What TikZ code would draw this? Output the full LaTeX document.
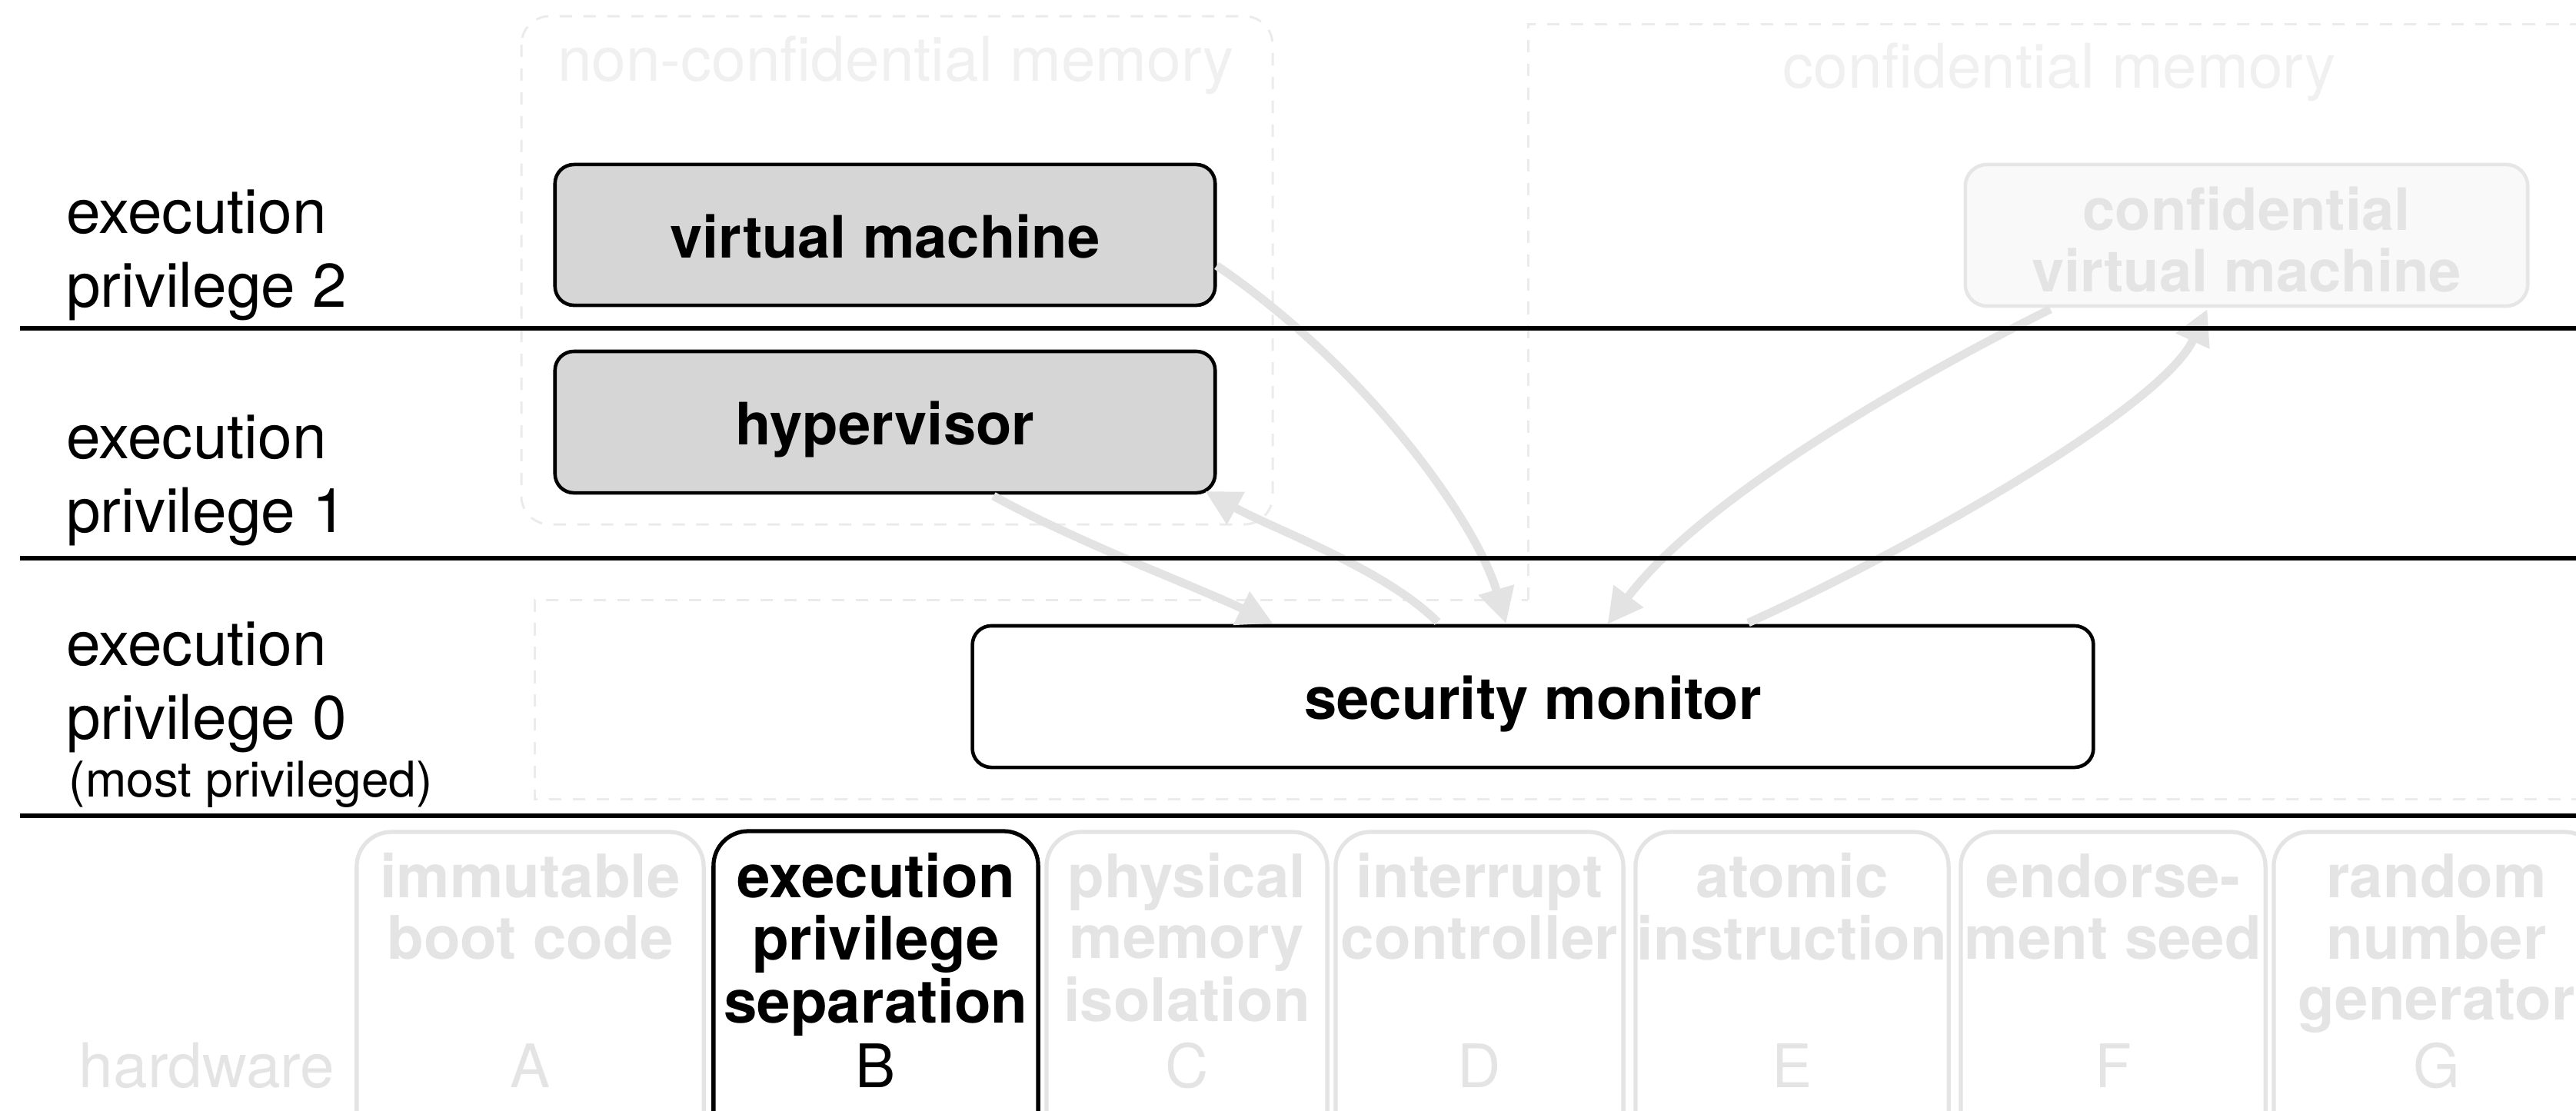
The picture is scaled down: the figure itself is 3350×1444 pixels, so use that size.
\documentclass[tikz,border=0pt]{standalone}
\usepackage{fontspec}
\setmainfont{TeX Gyre Heros}
\usetikzlibrary{arrows.meta,calc}

\definecolor{boxfill}{HTML}{D6D6D6}
\definecolor{flowgray}{HTML}{E3E3E3}
\definecolor{hwgray}{HTML}{E4E4E4}
\definecolor{regiongray}{HTML}{EBEBEB}
\definecolor{regiontext}{HTML}{F0F0F0}
\definecolor{cvmfill}{HTML}{F9F9F9}
\definecolor{cvmline}{HTML}{E6E6E6}

% stacked lines whose baseline is the first line
\newcommand\rowsC[1]{\begin{tabular}[t]{@{}c@{}}#1\end{tabular}}
\newcommand\rowsL[1]{\begin{tabular}[t]{@{}l@{}}#1\end{tabular}}

\tikzset{
  every node/.style={inner sep=0pt, outer sep=0pt},
  levelfont/.style={font=\fontsize{22.8pt}{27.3pt}\selectfont},
  rail/.style={line width=1.45pt, black},
  region/.style={draw=regiongray, line width=0.85pt, dash pattern=on 4.6pt off 4.2pt},
  regionlabel/.style={levelfont, text=regiontext},
  swbox/.style={draw=black, line width=1.3pt, rounded corners=7pt,
    font=\fontsize{21.6pt}{23pt}\selectfont\bfseries,
    text height=17pt, text depth=0pt},
  cvmbox/.style={draw=cvmline, fill=cvmfill, line width=1.3pt, rounded corners=8pt},
  cvmtext/.style={font=\fontsize{21.6pt}{23pt}\selectfont\bfseries, text=hwgray},
  hwbox/.style={draw=hwgray, line width=1.5pt, rounded corners=12.8pt,
    minimum height=4.3cm, anchor=north},
  hwtext/.style={font=\fontsize{22.2pt}{22.5pt}\selectfont\bfseries, text=hwgray, anchor=base},
  hwletter/.style={font=\fontsize{22.2pt}{22.5pt}\selectfont, text=hwgray, anchor=base},
  flow/.style={draw=flowgray, line width=3.1pt,
    -{Triangle[length=13pt,width=13pt]}},
}

\begin{document}
\begin{tikzpicture}[x=0.01cm,y=-0.01cm]
\useasboundingbox (0,0) rectangle (3350,1444);
\clip (0,0) rectangle (3350,1444);

% memory regions
\draw[region, rounded corners=10.5pt] (678,21) rectangle (1655,682);
\draw[region] (1987,780) -- (1987,31) -- (3420,31) -- (3420,1039)
  -- (695,1039) -- (695,780) -- cycle;
\node[regionlabel, anchor=base] (ncmem) at (1165,105) {non-confidential memory};
\node[regionlabel, anchor=base] (cmem) at (2678,114) {confidential memory};

% privilege level labels
\node[levelfont, anchor=base west] (lvl2) at (86,303) {\rowsL{execution\\privilege 2}};
\node[levelfont, anchor=base west] (lvl1) at (86,596) {\rowsL{execution\\privilege 1}};
\node[levelfont, anchor=base west] (lvl0) at (86,865) {\rowsL{execution\\privilege 0}};
\node[font=\fontsize{18.2pt}{20pt}\selectfont, anchor=base west] (lvl0note) at (90,1036) {(most privileged)};
\node[levelfont, text=hwgray, anchor=base west] (hwlabel) at (103,1414) {hardware};

% software components
\node[swbox, fill=boxfill, minimum width=8.58cm, minimum height=1.83cm] (vm) at (1151,305.5) {virtual machine};
\node[swbox, fill=boxfill, minimum width=8.58cm, minimum height=1.84cm] (hyp) at (1151,549) {hypervisor};
\node[swbox, fill=white, minimum width=14.57cm, minimum height=1.84cm] (sm) at (1993.5,906) {security monitor};
\node[cvmbox, minimum width=7.31cm, minimum height=1.84cm] (cvm) at (2921.5,306) {};
\node[cvmtext, anchor=base] (cvmname) at (2921.5,299) {\rowsC{confidential\\virtual machine}};

% control transfers
\draw[flow] ($(vm.east)+(2,40)$) .. controls +(197,134) and +(-38,-131) .. ($(sm.north)+(-35,-3)$);
\draw[flow] ($(hyp.south)+(141,4)$) .. controls +(108,60) and +(-95,-46) .. ($(sm.north)+(-338,-3)$);
\draw[flow] ($(sm.north)+(-124,-5)$) .. controls +(-69,-69) and +(93,51) .. ($(hyp.south east)+(-13,-2)$);
\draw[flow] ($(cvm.south)+(-255,4)$) .. controls +(-200,100) and +(120,-160) .. ($(sm.north)+(97,-2)$);
\draw[flow] ($(sm.north)+(280,-4)$) .. controls +(200,-90) and +(-60,130) .. ($(cvm.south)+(-51,4)$);

% privilege boundaries
\draw[rail] (26,427) -- (3360,427);
\draw[rail] (26,726) -- (3360,726);
\draw[rail] (26,1061) -- (3360,1061);

% hardware features
\foreach \id/\cx/\w/\txt in {A/689.5/4.51/{immutable\\boot code},
    C/1543.5/3.65/{physical\\memory\\isolation},
    D/1924/3.74/{interrupt\\controller},
    E/2330.5/4.07/{atomic\\instruction},
    F/2748/3.96/{endorse-\\ment seed},
    G/3168.5/4.23/{random\\number\\generator}} {
  \node[hwbox, minimum width=\w cm] (hw\id) at (\cx,1082) {};
  \node[hwtext] (hw\id name) at (\cx,1167) {\rowsC{\txt}};
  \node[hwletter] (hw\id tag) at (\cx,1414) {\id};
}
\node[hwbox, draw=black, minimum width=4.22cm] (hwB) at (1139,1081) {};
\node[hwtext, text=black] (hwBname) at (1139,1167) {\rowsC{execution\\privilege\\separation}};
\node[hwletter, text=black] (hwBtag) at (1139,1414) {B};
\end{tikzpicture}
\end{document}
